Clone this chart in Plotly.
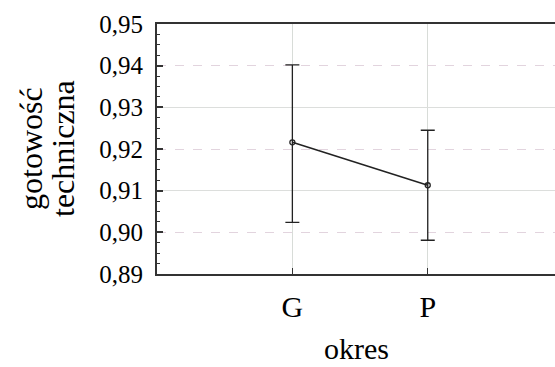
import plotly.graph_objects as go

categories = ["G", "P"]
means = [0.9216, 0.9113]
upper = [0.9402, 0.9245]
lower = [0.9024, 0.8981]
y_ticks = [0.89, 0.90, 0.91, 0.92, 0.93, 0.94, 0.95]
y_labels = ["0,89", "0,90", "0,91", "0,92", "0,93", "0,94", "0,95"]
solid_grid = [0.91, 0.93]
dashed_grid = [0.90, 0.92, 0.94]

err_plus = [u - m for u, m in zip(upper, means)]
err_minus = [m - l for m, l in zip(means, lower)]
xpos = list(range(len(categories)))

FONT = "Liberation Serif"
L, R, T, B = 157, 0, 24, 93
W, H = 555, 367
pw = W - L - R
ph = H - T - B

fig = go.Figure()
# invisible traces to activate the overlay axes
fig.add_trace(go.Scatter(x=[None], y=[None], yaxis="y2", showlegend=False, hoverinfo="skip"))
fig.add_trace(go.Scatter(x=[None], y=[None], yaxis="y3", showlegend=False, hoverinfo="skip"))
fig.add_trace(go.Scatter(x=[None], y=[None], xaxis="x2", showlegend=False, hoverinfo="skip"))
fig.add_trace(go.Scatter(
    x=xpos, y=means, mode="lines+markers",
    line=dict(color="#222222", width=1.5),
    marker=dict(symbol="circle-open", size=5, color="#222222", line=dict(width=1.3)),
    error_y=dict(type="data", symmetric=False, array=err_plus, arrayminus=err_minus,
                 color="#222222", thickness=1.3, width=7),
    showlegend=False, hoverinfo="skip",
))

yr = [0.89, 0.95]
xr = [-1, 1.94]
fig.update_layout(
    width=W, height=H,
    margin=dict(l=L, r=R, t=T, b=B, autoexpand=False),
    paper_bgcolor="white", plot_bgcolor="white",
    font=dict(family=FONT, color="black"),
    xaxis=dict(
        range=xr, tickvals=xpos, ticktext=categories, automargin=False,
        showgrid=True, gridcolor="#d8dcd8", gridwidth=1.3,
        showline=True, linecolor="#333333", linewidth=1.6, mirror=False,
        ticks="inside", ticklen=6, tickcolor="#333333", tickwidth=1.3,
        tickfont=dict(size=30, family=FONT), ticklabelstandoff=5,
        zeroline=False,
    ),
    xaxis2=dict(overlaying="x", range=xr, showgrid=False, showline=True, automargin=False,
                linecolor="#333333", linewidth=1.6, side="top", showticklabels=False,
                ticks="", zeroline=False),
    yaxis=dict(
        range=yr, tickvals=y_ticks, ticktext=y_labels, automargin=False,
        showgrid=False, zeroline=False,
        showline=True, linecolor="#333333", linewidth=1.8,
        ticks="inside", ticklen=6, tickcolor="#333333", tickwidth=1.5,
        tickfont=dict(size=25, family=FONT), ticklabelstandoff=7,
        minor=dict(dtick=0.0025, tick0=0.89, ticks="inside", ticklen=3,
                   tickcolor="#333333", tickwidth=1.2, showgrid=False),
    ),
    yaxis2=dict(overlaying="y", range=yr, tickvals=solid_grid, showticklabels=False,
                showgrid=True, gridcolor="#dcdedc", gridwidth=1.3, ticks="", automargin=False,
                zeroline=False, showline=False),
    yaxis3=dict(overlaying="y", range=yr, tickvals=dashed_grid, showticklabels=False,
                showgrid=True, gridcolor="#e2d4de", gridwidth=1.3, griddash="dash",
                ticks="", zeroline=False, showline=False, automargin=False),
    annotations=[
        dict(text="gotowość", textangle=-90, x=(31 - L) / pw, y=(H - B - 149) / ph,
             xref="paper", yref="paper", xanchor="center", yanchor="middle",
             showarrow=False, font=dict(size=32, family=FONT)),
        dict(text="techniczna", textangle=-90, x=(63 - L) / pw, y=(H - B - 149) / ph,
             xref="paper", yref="paper", xanchor="center", yanchor="middle",
             showarrow=False, font=dict(size=32, family=FONT)),
        dict(text="okres", x=(356 - L) / pw, y=(H - B - 367) / ph,
             xref="paper", yref="paper", xanchor="center", yanchor="bottom",
             showarrow=False, font=dict(size=30, family=FONT)),
    ],
)

fig.write_html("out.html", config={"displayModeBar": False},
               post_script="document.body.style.margin='0';")
